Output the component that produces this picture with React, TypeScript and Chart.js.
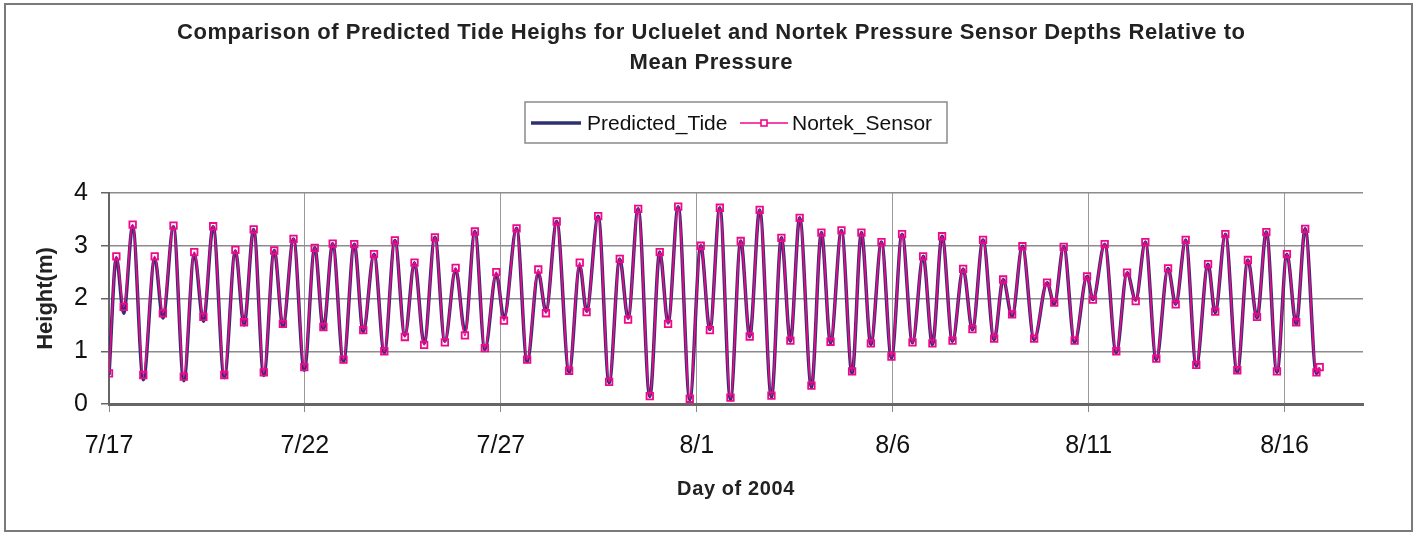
import React, { useEffect, useRef } from 'react';
import { Chart, registerables } from 'chart.js';

Chart.register(...registerables);

// ---- Data ----
// Times (hours after 7/17/2004 00:00) of the turning points of the tide curve
const tideHours = [
  0, 4.5, 9.0, 14.5, 21.0, 28.0, 33.0, 39.5, 45.8, 52.2,
  57.8, 63.8, 70.6, 77.4, 82.7, 88.6, 94.8, 101.2, 106.5, 113.0,
  119.6, 126.0, 131.3, 137.0, 143.6, 150.2, 155.7, 162.3, 168.6, 175.1,
  181.2, 187.1, 193.0, 199.6, 205.7, 212.3, 218.0, 224.1, 230.2, 237.2,
  241.9, 249.6, 256.1, 262.9, 267.6, 274.2, 281.8, 288.3, 292.5, 299.6,
  306.3, 312.8, 317.9, 324.1, 331.2, 337.3, 342.4, 348.6, 355.7, 362.4,
  368.0, 374.1, 380.6, 386.9, 392.4, 398.5, 405.7, 411.8, 417.3, 423.0,
  430.2, 436.3, 441.9, 448.6, 455.1, 460.8, 466.6, 473.1, 479.2, 485.7,
  492.1, 498.6, 504.3, 510.2, 516.6, 523.1, 528.8, 535.3, 542.1, 547.6,
  553.1, 559.4, 566.6, 574.5, 578.9, 584.7, 591.4, 599.0, 602.6, 609.8,
  616.9, 623.5, 628.8, 634.7, 641.4, 648.6, 653.3, 659.4, 665.9, 673.1,
  677.5, 683.7, 691.0, 697.5, 703.1, 708.8, 715.3, 721.4, 727.1, 732.6,
  739.5, 741.5,
];

// Predicted tide heights (m) at those times
const predictedTide = [
  0.55, 2.77, 1.72, 3.37, 0.46, 2.76, 1.63, 3.36, 0.44, 2.84,
  1.57, 3.36, 0.50, 2.90, 1.50, 3.31, 0.54, 2.91, 1.47, 3.13,
  0.64, 2.96, 1.42, 3.04, 0.80, 3.03, 1.37, 2.84, 0.97, 3.10,
  1.30, 2.68, 1.15, 3.16, 1.19, 2.55, 1.38, 3.27, 1.03, 2.46,
  1.63, 3.33, 0.80, 2.49, 1.76, 3.46, 0.60, 2.62, 1.76, 3.56,
  0.40, 2.75, 1.63, 3.70, 0.14, 2.88, 1.54, 3.74, 0.08, 3.00,
  1.41, 3.72, 0.08, 3.09, 1.28, 3.68, 0.13, 3.15, 1.19, 3.53,
  0.32, 3.25, 1.16, 3.29, 0.58, 3.25, 1.13, 3.07, 0.87, 3.22,
  1.16, 2.80, 1.13, 3.18, 1.19, 2.56, 1.41, 3.11, 1.22, 2.36,
  1.66, 2.99, 1.22, 2.30, 1.89, 2.98, 1.17, 2.42, 1.98, 3.03,
  0.97, 2.49, 1.97, 3.07, 0.84, 2.57, 1.89, 3.11, 0.72, 2.65,
  1.73, 3.22, 0.60, 2.73, 1.63, 3.26, 0.60, 2.84, 1.51, 3.32,
  0.58, 0.68,
];

// Nortek pressure sensor depths (m, relative to mean pressure) at those times
const nortekSensor = [
  0.58, 2.80, 1.84, 3.40, 0.55, 2.80, 1.72, 3.38, 0.52, 2.88,
  1.65, 3.37, 0.55, 2.92, 1.55, 3.31, 0.60, 2.91, 1.52, 3.13,
  0.70, 2.96, 1.46, 3.04, 0.84, 3.03, 1.40, 2.84, 1.00, 3.10,
  1.27, 2.68, 1.12, 3.16, 1.17, 2.58, 1.30, 3.27, 1.06, 2.50,
  1.58, 3.33, 0.84, 2.55, 1.72, 3.46, 0.63, 2.68, 1.74, 3.56,
  0.42, 2.75, 1.60, 3.70, 0.15, 2.88, 1.52, 3.74, 0.10, 3.00,
  1.40, 3.72, 0.12, 3.09, 1.28, 3.68, 0.16, 3.15, 1.20, 3.53,
  0.35, 3.25, 1.18, 3.29, 0.62, 3.25, 1.15, 3.07, 0.90, 3.22,
  1.17, 2.80, 1.15, 3.18, 1.20, 2.56, 1.42, 3.11, 1.24, 2.36,
  1.70, 2.99, 1.24, 2.30, 1.92, 2.98, 1.20, 2.42, 1.98, 3.03,
  1.00, 2.49, 1.95, 3.07, 0.86, 2.57, 1.89, 3.11, 0.74, 2.65,
  1.75, 3.22, 0.64, 2.73, 1.65, 3.26, 0.62, 2.84, 1.55, 3.32,
  0.60, 0.70,
];

const xTickLabels = ['7/17', '7/22', '7/27', '8/1', '8/6', '8/11', '8/16'];
const xTickStepHours = 120; // 5 days
const xMaxHours = 768; // 8/18
const titleLines = [
  'Comparison of Predicted Tide Heighs for Ucluelet and Nortek Pressure Sensor Depths Relative to',
  'Mean Pressure',
];
const xAxisTitle = 'Day of 2004';
const yAxisTitle = 'Height(m)';
const seriesNames = ['Predicted_Tide', 'Nortek_Sensor'];

// ---- Styles ----
const FONT = '"Liberation Sans", Arial, Helvetica, sans-serif';
const NAVY = '#2f3070';
const PINK = '#f0088c';

const decorPlugin = {
  id: 'decor',
  beforeDraw(chart: any) {
    const ctx = chart.ctx;
    ctx.save();
    ctx.fillStyle = '#ffffff';
    ctx.fillRect(0, 0, chart.width, chart.height);
    ctx.restore();
  },
  afterDraw(chart: any) {
    const ctx = chart.ctx as CanvasRenderingContext2D;
    const area = chart.chartArea;
    ctx.save();
    // outer chart border
    ctx.strokeStyle = '#7a7a7a';
    ctx.lineWidth = 2;
    ctx.strokeRect(5, 4, chart.width - 10, chart.height - 6);

    // title
    ctx.fillStyle = '#222';
    ctx.textAlign = 'center';
    ctx.textBaseline = 'alphabetic';
    ctx.font = `bold 22px ${FONT}`;
    const w0 = ctx.measureText(titleLines[0]).width;
    const ls = Math.max(0, (1068 - w0) / (titleLines[0].length - 1));
    (ctx as any).letterSpacing = `${ls}px`;
    ctx.fillText(titleLines[0], 711 + ls / 2, 39);
    ctx.fillText(titleLines[1], 711 + ls / 2, 69);
    (ctx as any).letterSpacing = '0px';

    // legend box
    ctx.strokeStyle = '#8a8a8a';
    ctx.lineWidth = 1.5;
    ctx.strokeRect(525, 102, 422, 41);
    const ly = 123;
    ctx.strokeStyle = NAVY;
    ctx.lineWidth = 3.5;
    ctx.beginPath();
    ctx.moveTo(531, ly);
    ctx.lineTo(581, ly);
    ctx.stroke();
    ctx.font = `21px ${FONT}`;
    ctx.textAlign = 'left';
    ctx.fillStyle = '#111';
    ctx.fillText(seriesNames[0], 587, 130);
    ctx.strokeStyle = PINK;
    ctx.lineWidth = 1.5;
    ctx.beginPath();
    ctx.moveTo(740, ly);
    ctx.lineTo(788, ly);
    ctx.stroke();
    ctx.fillStyle = '#fff';
    ctx.fillRect(761, ly - 3, 6, 6);
    ctx.lineWidth = 1.6;
    ctx.strokeRect(761, ly - 3, 6, 6);
    ctx.fillStyle = '#111';
    ctx.fillText(seriesNames[1], 792, 130);

    // axis titles
    ctx.fillStyle = '#222';
    ctx.font = `bold 20px ${FONT}`;
    (ctx as any).letterSpacing = '0.6px';
    ctx.textAlign = 'center';
    const xcx = (area.left + area.right) / 2;
    ctx.fillText(xAxisTitle, xcx, 495);
    (ctx as any).letterSpacing = '0px';

    ctx.translate(46, (area.top + area.bottom) / 2);
    ctx.rotate(-Math.PI / 2);
    ctx.font = `bold 22px ${FONT}`;
    ctx.textBaseline = 'middle';
    ctx.fillText(yAxisTitle, 0, 0);
    ctx.restore();
  },
};

export default function App() {
  const ref = useRef<HTMLCanvasElement>(null);

  useEffect(() => {
    const canvas = ref.current;
    if (!canvas) return;
    const toPoints = (ys: number[]) => tideHours.map((x, i) => ({ x, y: ys[i] }));
    const tickFont = { family: FONT, size: 25 };
    const chart = new Chart(canvas, {
      type: 'line',
      data: {
        datasets: [
          {
            label: seriesNames[0],
            data: toPoints(predictedTide),
            borderColor: NAVY,
            borderWidth: 3.5,
            pointRadius: 0,
            cubicInterpolationMode: 'monotone',
            order: 2,
          },
          {
            label: seriesNames[1],
            data: toPoints(nortekSensor),
            borderColor: PINK,
            borderWidth: 1.6,
            pointStyle: 'rect',
            pointRadius: 4.6,
            pointBorderWidth: 1.8,
            pointBorderColor: PINK,
            pointBackgroundColor: 'rgba(0,0,0,0)',
            cubicInterpolationMode: 'monotone',
            order: 1,
          },
        ],
      },
      options: {
        responsive: false,
        animation: false,
        layout: { padding: { top: 193, right: 54, left: 0, bottom: 0 } },
        plugins: {
          legend: { display: false },
          title: { display: false },
          tooltip: { enabled: false },
        },
        scales: {
          x: {
            type: 'linear',
            min: 0,
            max: xMaxHours,
            afterFit: (s: any) => { s.height = 129; },
            afterBuildTicks: (s: any) => {
              s.ticks = s.ticks.filter((t: any) => t.value % xTickStepHours === 0);
            },
            ticks: {
              stepSize: xTickStepHours,
              autoSkip: false,
              maxRotation: 0,
              padding: 19,
              color: '#111',
              font: tickFont,
              callback: (v: any) => xTickLabels[Math.round(v / xTickStepHours)] ?? '',
            },
            grid: { color: '#9a9a9a', lineWidth: 1, tickLength: 8, tickColor: '#888' },
            border: { color: '#666', width: 3 },
          },
          y: {
            min: 0,
            max: 4,
            afterFit: (s: any) => { s.width = 109; },
            ticks: { stepSize: 1, padding: 13, color: '#111', font: tickFont },
            grid: { color: '#8c8c8c', lineWidth: 1.5, tickLength: 8, tickColor: '#666' },
            border: { color: '#666', width: 2 },
          },
        },
      },
      plugins: [decorPlugin],
    } as any);
    return () => chart.destroy();
  }, []);

  return (
    <div style={{ position: 'absolute', left: 0, top: 0, width: 1417, height: 533 }}>
      <canvas ref={ref} width={1417} height={533} style={{ width: 1417, height: 533 }} />
    </div>
  );
}
